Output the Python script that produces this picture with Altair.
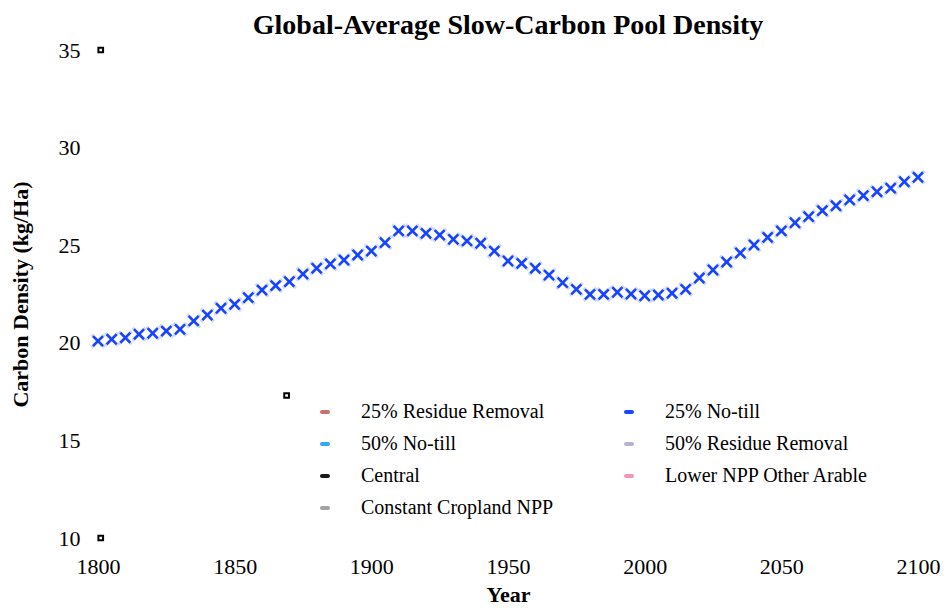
import altair as alt
import pandas as pd

years = list(range(1800, 2101, 5))
density = [
    20.09, 20.18, 20.26, 20.44, 20.49, 20.60, 20.69, 21.12, 21.42, 21.77,
    21.97, 22.31, 22.70, 22.93, 23.13, 23.52, 23.82, 24.04, 24.24, 24.50,
    24.70, 25.13, 25.73, 25.73, 25.61, 25.52, 25.30, 25.22, 25.10, 24.70,
    24.19, 24.07, 23.82, 23.47, 23.08, 22.74, 22.48, 22.48, 22.59, 22.50,
    22.41, 22.45, 22.54, 22.74, 23.32, 23.73, 24.14, 24.60, 25.01, 25.40,
    25.73, 26.15, 26.46, 26.77, 27.02, 27.32, 27.54, 27.74, 27.92, 28.25,
    28.48,
]
series_names = [
    "25% Residue Removal", "25% No-till", "50% No-till", "50% Residue Removal",
    "Central", "Lower NPP Other Arable", "Constant Cropland NPP",
]
series_colors = [
    "#c4625c", "#0033ff", "#1a9fff", "#b3a9cc",
    "#000000", "#f28aaa", "#999999",
]
plotted_series = "25% No-till"

# small stray square markers seen in the reference
stray_years = [1801, 1801, 1869]
stray_values = [35, 10, 17.3]

df = pd.DataFrame({"Year": years, "Density": density, "Series": plotted_series})
stray = pd.DataFrame({"Year": stray_years, "Density": stray_values})

X_PATH = ("M-0.7,-1 L0,-0.3 L0.7,-1 L1,-0.7 L0.3,0 L1,0.7 L0.7,1 L0,0.3 "
          "L-0.7,1 L-1,0.7 L-0.3,0 L-1,-0.7 Z")
DASH_PATH = ("M-0.6,-0.4 L0.6,-0.4 A0.4,0.4 0 0 1 0.6,0.4 L-0.6,0.4 "
             "A0.4,0.4 0 0 1 -0.6,-0.4 Z")

xscale = alt.Scale(domain=[1800, 2100], nice=False, zero=False)
yscale = alt.Scale(domain=[10, 35], nice=False, zero=False)

xaxis = alt.Axis(values=[1800, 1850, 1900, 1950, 2000, 2050, 2100], format="d",
                 title="Year", grid=False, domain=False, ticks=False,
                 labelFlush=False, labelPadding=18, titlePadding=7)
yaxis = alt.Axis(values=[10, 15, 20, 25, 30, 35], title="Carbon Density (kg/Ha)",
                 grid=False, domain=False, ticks=False, labelFlush=False,
                 labelPadding=18, titlePadding=26)

halo = alt.Chart(df).mark_point(
    shape=X_PATH, filled=True, size=230, color="#9fb2ff", opacity=0.5
).encode(
    x=alt.X("Year:Q", scale=xscale, axis=xaxis),
    y=alt.Y("Density:Q", scale=yscale, axis=yaxis),
)

points = alt.Chart(df).mark_point(
    shape=X_PATH, filled=True, size=140, opacity=0.9
).encode(
    x=alt.X("Year:Q", scale=xscale),
    y=alt.Y("Density:Q", scale=yscale),
    color=alt.Color(
        "Series:N",
        scale=alt.Scale(domain=series_names, range=series_colors),
        legend=alt.Legend(
            title=None, orient="none", legendX=217, legendY=352, columns=2,
            direction="horizontal",
            symbolType=DASH_PATH, symbolSize=100, symbolStrokeWidth=0,
            labelOffset=26, columnPadding=65, rowPadding=12, padding=0,
            labelLimit=400,
            labelFontSize=20, labelFont="Liberation Serif", labelColor="#000000",
        ),
    ),
)

strays = alt.Chart(stray).mark_point(
    shape="square", filled=False, size=22, color="#000000", strokeWidth=2,
    opacity=1
).encode(
    x=alt.X("Year:Q", scale=xscale),
    y=alt.Y("Density:Q", scale=yscale),
)

chart = alt.layer(halo, points, strays).properties(
    width=820, height=488,
    autosize=alt.AutoSizeParams(type="none"),
    padding={"left": 90, "top": 42, "right": 23, "bottom": 70},
    title=alt.Title("Global-Average Slow-Carbon Pool Density",
                    font="Liberation Serif", fontSize=28, fontWeight="bold",
                    color="#000000", anchor="middle", offset=-1),
).configure_view(stroke=None).configure_axis(
    labelFont="Liberation Serif", labelFontSize=22, labelColor="#000000",
    titleFont="Liberation Serif", titleFontSize=22, titleFontWeight="bold",
    titleColor="#000000",
)

chart.save("out.html", embed_options={"renderer": "svg", "actions": False})
